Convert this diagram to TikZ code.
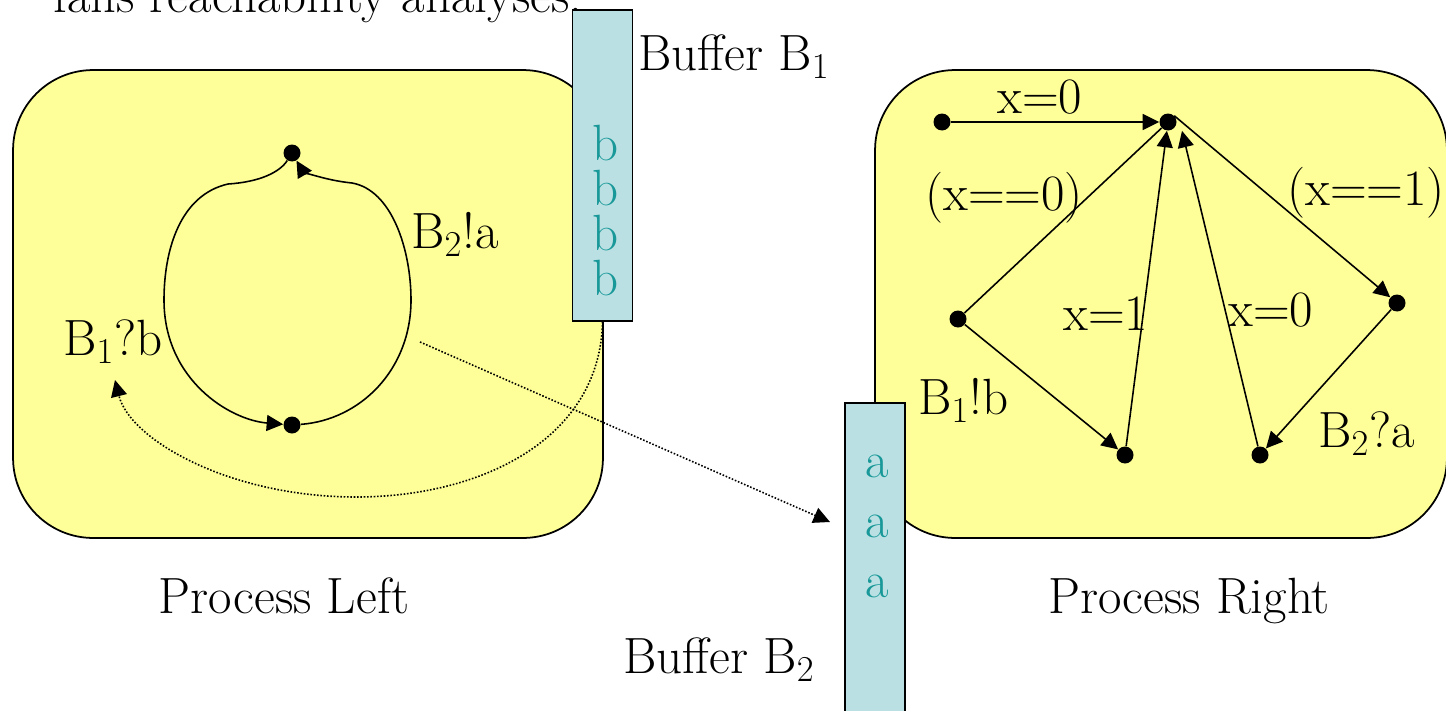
\documentclass[tikz,border=0pt]{standalone}
\usepackage{tikz}
\usetikzlibrary{arrows.meta}

\definecolor{procfill}{RGB}{255,255,153}
\definecolor{buffill}{RGB}{187,224,227}
\definecolor{bufink}{RGB}{24,152,152}

\begin{document}
\begin{tikzpicture}[
    x=0.02cm, y=-0.02cm,
    font=\fontsize{29}{34}\selectfont,
    proc/.style={rectangle, draw, line width=1pt, fill=procfill, rounded corners=1.6cm, minimum height=9.36cm},
    buffer/.style={rectangle, draw, line width=1pt, fill=buffill, minimum width=1.2cm, inner sep=0pt},
    bufitem/.style={text=bufink, inner sep=0pt, anchor=base},
    state/.style={circle, fill=black, inner sep=0pt, minimum size=0.34cm},
    lbl/.style={inner sep=0pt, anchor=base west},
    trans/.style={line width=0.9pt, -{Triangle[length=0.33cm,width=0.32cm]}},
    msg/.style={line width=0.9pt, densely dotted, -{Triangle[length=0.33cm,width=0.32cm]}}
]
\useasboundingbox (0,0) rectangle (1446,710);

% the two processes
\node[proc, minimum width=11.8cm] (procL) at (308,304) {};
\node[proc, minimum width=11.44cm] (procR) at (1161,304) {};
\node[lbl] (caption) at (53,12) {fails reachability analyses.};

% buffers
\node[buffer, minimum height=6.22cm] (b1) at (602.5,165.5) {};
\node[buffer, minimum height=6.74cm] (b2) at (875,571.5) {};
\node[bufitem] (b1i1) at (606,160) {b};
\node[bufitem] (b1i2) at (606,205) {b};
\node[bufitem] (b1i3) at (606,250) {b};
\node[bufitem] (b1i4) at (606,295) {b};
\node[bufitem] (b2i1) at (877,477) {a};
\node[bufitem] (b2i2) at (877,537) {a};
\node[bufitem] (b2i3) at (877,597) {a};
\node[lbl] (b1name) at (638,70) {Buffer B$_1$};
\node[lbl] (b2name) at (623,673) {Buffer B$_2$};

% left process
\node[state] (ltop) at (292,153) {};
\node[state] (lbot) at (292,425) {};
\draw[trans] (ltop) .. controls (280,172) and (260,182) .. (228,184)
    .. controls (180,195) and (164,250) .. (164,300)
    .. controls (164,380) and (230,420) .. (lbot);
\draw[trans] (lbot) .. controls (360,420) and (411,370) .. (411,300)
    .. controls (411,250) and (392,190) .. (352,183)
    .. controls (322,180) and (302,170) .. (ltop);
\node[lbl] (lsend) at (411,248) {B$_2$!a};
\node[lbl] (lrecv) at (63,355) {B$_1$?b};

% messages
\coordinate (recvpt) at (115,380);
\coordinate (sendpt) at (420,342);
\coordinate (b2in) at (830,522);
\draw[msg] (b1.south) .. controls (600,440) and (480,497) .. (356,497)
    .. controls (230,497) and (130,440) .. (recvpt);
\draw[msg] (sendpt) -- (b2in);

% right process
\node[state] (r0) at (942,122) {};
\node[state] (r1) at (1168,122) {};
\node[state] (r2) at (958,319) {};
\node[state] (r3) at (1125,455) {};
\node[state] (r4) at (1260,455) {};
\node[state] (r5) at (1397,303) {};
\draw[trans] (r0) -- (r1);
\draw[line width=0.9pt] (r1) -- (r2);
\draw[trans] (r1.north east) -- (r5);
\draw[trans] (r2) -- (r3);
\draw[trans] (r3) -- (r1);
\draw[trans] (r5) -- (r4);
\draw[trans] (r4) -- ([xshift=0.28cm]r1.south);
\node[lbl] (rinit) at (997,113) {x=0};
\node[lbl] (rg0) at (925,210) {(x==0)};
\node[lbl] (rg1) at (1287,205) {(x==1)};
\node[lbl] (rset1) at (1063,330) {x=1};
\node[lbl] (rset0) at (1228,326) {x=0};
\node[lbl] (rsend) at (918,414) {B$_1$!b};
\node[lbl] (rrecv) at (1318,447) {B$_2$?a};

\node[anchor=base] (pleft) at (284,613) {Process Left};
\node[anchor=base] (pright) at (1189,613) {Process Right};

\end{tikzpicture}
\end{document}
